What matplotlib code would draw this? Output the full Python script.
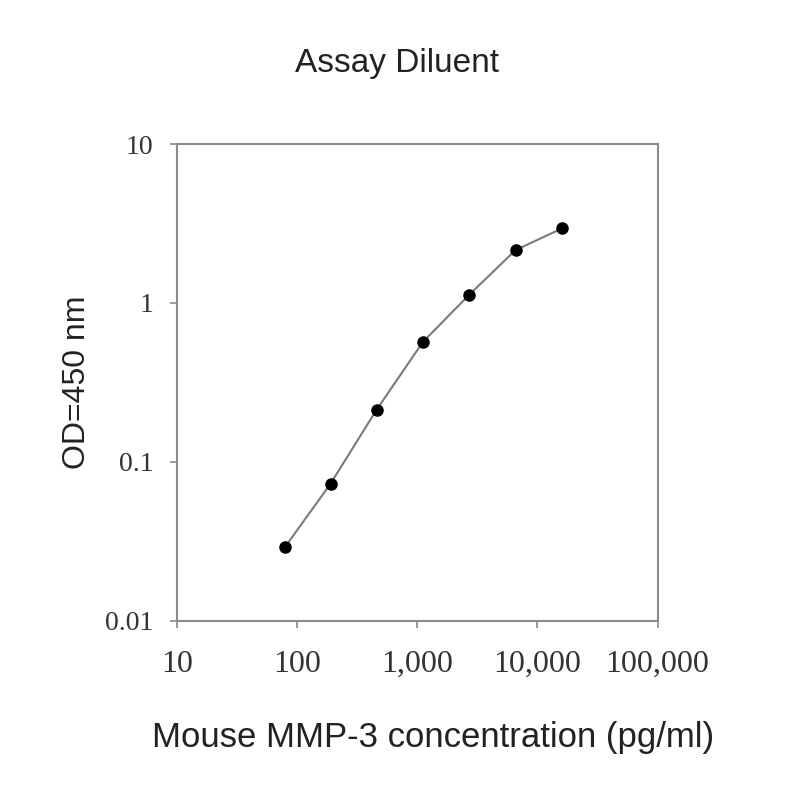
import matplotlib
matplotlib.use('Agg')
import matplotlib.pyplot as plt
from matplotlib.ticker import FixedLocator, FixedFormatter, NullLocator

# Standard curve readings
concentration = [80, 190, 460, 1115, 2690, 6580, 15960]
od_450 = [0.0293, 0.0728, 0.213, 0.568, 1.12, 2.15, 2.94]

x_ticks = [10, 100, 1000, 10000, 100000]
x_tick_labels = ['10', '100', '1,000', '10,000', '100,000']
y_ticks = [0.01, 0.1, 1, 10]
y_tick_labels = ['0.01', '0.1', '1', '10']

fig = plt.figure(figsize=(8, 8), dpi=100)
ax = fig.add_axes([0.221, 0.224, 0.601, 0.596])

ax.plot(concentration, od_450, color='#7a7a7a', linewidth=1.5, zorder=2)
ax.plot(concentration, od_450, linestyle='none', marker='o', markersize=8,
        color='black', zorder=3)

ax.set_xscale('log')
ax.set_yscale('log')
ax.set_xlim(10, 100000)
ax.set_ylim(0.01, 10)

ax.xaxis.set_major_locator(FixedLocator(x_ticks))
ax.xaxis.set_major_formatter(FixedFormatter(x_tick_labels))
ax.yaxis.set_major_locator(FixedLocator(y_ticks))
ax.yaxis.set_major_formatter(FixedFormatter(y_tick_labels))
ax.xaxis.set_minor_locator(NullLocator())
ax.yaxis.set_minor_locator(NullLocator())

for spine in ax.spines.values():
    spine.set_color('#8a8a8a')
    spine.set_linewidth(1.5)

ax.tick_params(axis='both', direction='out', length=5, width=1.2,
               color='#8a8a8a', labelcolor='#333333')
ax.tick_params(axis='x', pad=16)
ax.tick_params(axis='y', pad=12)
for lbl in ax.get_xticklabels():
    lbl.set_family('Liberation Serif')
    lbl.set_fontsize(23)
for lbl in ax.get_yticklabels():
    lbl.set_family('Liberation Serif')
    lbl.set_fontsize(20)

fig.text(0.496, 0.921, 'Assay Diluent', family='Liberation Sans', fontsize=24,
         color='#222222', ha='center', va='center')
fig.text(0.541, 0.078, 'Mouse MMP-3 concentration (pg/ml)',
         family='Liberation Sans', fontsize=25, color='#222222',
         ha='center', va='center')
ax.set_ylabel('OD=450 nm', family='Liberation Sans', fontsize=23,
              color='#222222', labelpad=9)

fig.savefig('out.png', dpi=100, facecolor='white')
